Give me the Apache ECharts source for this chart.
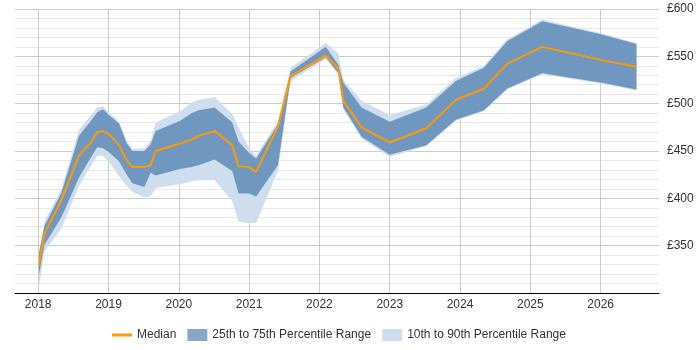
<!DOCTYPE html>
<html>
<head>
<meta charset="utf-8">
<script src="https://cdn.jsdelivr.net/npm/echarts@6/dist/echarts.min.js"></script>
<style>
  html, body { margin: 0; padding: 0; background: #fff; }
  #chart { width: 700px; height: 350px; }
</style>
</head>
<body>
<div id="chart"></div>
<script>
// x positions as decimal years
const years = [2018.01, 2018.09, 2018.33, 2018.58, 2018.74, 2018.84, 2018.92, 2019.02, 2019.15, 2019.26,
  2019.34, 2019.51, 2019.60, 2019.67, 2020.02, 2020.18, 2020.28, 2020.51, 2020.76, 2020.85,
  2021.00, 2021.10, 2021.41, 2021.59, 2022.09, 2022.27, 2022.34, 2022.60, 2023.00, 2023.52,
  2023.94, 2024.34, 2024.67, 2025.17, 2026.02, 2026.51]
const median = [329, 363, 398, 445, 458, 470, 471, 467, 456, 440,
  433, 433, 435, 450, 458, 462, 466, 471, 456, 434,
  433, 428, 476, 529, 551, 537, 503, 475, 459, 474,
  504, 516, 542, 560, 546, 539]
const p25 = [319, 351, 380, 422, 442, 454, 453, 448, 439, 425,
  416, 412, 427, 424, 431, 433, 435, 441, 429, 405,
  405, 402, 435, 527, 549, 532, 496, 465, 446, 456,
  483, 493, 516, 532, 522, 515]
const p75 = [342, 371, 406, 466, 481, 491, 494, 487, 479, 458,
  450, 450, 457, 471, 482, 490, 493, 496, 480, 460,
  448, 442, 478, 534, 560, 541, 522, 496, 481, 496,
  524, 538, 566, 587, 573, 563]
const p10 = [306, 344, 368, 413, 433, 445, 445, 437, 423, 413,
  407, 401, 402, 411, 415, 418, 419, 419, 397, 375,
  374, 374, 429, 524, 547, 531, 494, 463, 444, 455,
  482, 492, 515, 531, 521, 514]
const p90 = [343, 376, 410, 472, 487, 496, 497, 490, 481, 461,
  452, 453, 461, 480, 492, 501, 504, 507, 489, 475,
  453, 445, 482, 538, 564, 553, 525, 503, 488, 499,
  527, 540, 568, 589, 574, 564]

const darkBlue = '#7097bf'
const lightBlue = '#cfdeee'
const orange = '#ff9900'

// band drawn as one polygon: upper edge forward, lower edge back
function band(name, lo, hi, color, z) {
  const data = years.map((y, i) => [y, lo[i], hi[i]])
  return {
    type: 'custom',
    name: name,
    data: data,
    encode: { x: 0, y: [1, 2] },
    itemStyle: { color: color },
    silent: true,
    clip: true,
    z: z,
    renderItem: (params, api) => {
      if (params.dataIndex !== 0) return null
      const top = data.map(d => api.coord([d[0], d[2]]))
      const bot = data.map(d => api.coord([d[0], d[1]])).reverse()
      return {
        type: 'polygon',
        shape: { points: top.concat(bot) },
        style: { fill: color }
      }
    }
  }
}

const chart = echarts.init(document.getElementById('chart'))
chart.setOption({
  animation: false,
  textStyle: { fontFamily: 'Liberation Sans, Arial, sans-serif' },
  grid: { left: 15, right: 41, top: 9, bottom: 57 },
  legend: {
    top: 324,
    left: 107,
    itemGap: 11,
    itemWidth: 20,
    itemHeight: 12,
    textStyle: { fontSize: 12, color: '#333' },
    data: [
      { name: 'Median', icon: 'path://M0,0 L20,0 L20,3 L0,3 Z', itemStyle: { color: orange } },
      { name: '25th to 75th Percentile Range', icon: 'rect', itemStyle: { color: '#87a6c8' } },
      { name: '10th to 90th Percentile Range', icon: 'rect', itemStyle: { color: lightBlue } }
    ]
  },
  xAxis: {
    type: 'value',
    min: 2017.67,
    max: 2026.83,
    minInterval: 1,
    maxInterval: 1,
    axisLine: { lineStyle: { color: '#000', width: 1 } },
    axisTick: { show: false },
    axisLabel: {
      color: '#333',
      fontSize: 12,
      margin: 6,
      showMinLabel: false,
      showMaxLabel: false,
      formatter: (v) => Number.isInteger(v) ? String(v) : ''
    },
    splitLine: { show: true, showMinLine: false, showMaxLine: false, lineStyle: { color: '#cccccc' } }
  },
  yAxis: {
    type: 'value',
    position: 'right',
    min: 300,
    max: 600,
    interval: 10,
    axisLine: { show: false },
    axisTick: { show: false },
    axisLabel: {
      color: '#333',
      fontSize: 12,
      margin: 8,
      formatter: (v) => (v % 50 === 0 && v > 300) ? '£' + v : ''
    },
    splitLine: { lineStyle: { color: ['#cccccc', '#e8e8e8', '#e8e8e8', '#e8e8e8', '#e8e8e8'] } }
  },
  series: [
    band('10th to 90th Percentile Range', p10, p90, lightBlue, 1),
    band('25th to 75th Percentile Range', p25, p75, darkBlue, 2),
    {
      name: 'Median',
      type: 'line',
      data: years.map((y, i) => [y, median[i]]),
      symbol: 'none',
      itemStyle: { color: orange },
      lineStyle: { color: orange, width: 2 },
      z: 5
    }
  ]
})
window.addEventListener('resize', () => chart.resize())
</script>
</body>
</html>
